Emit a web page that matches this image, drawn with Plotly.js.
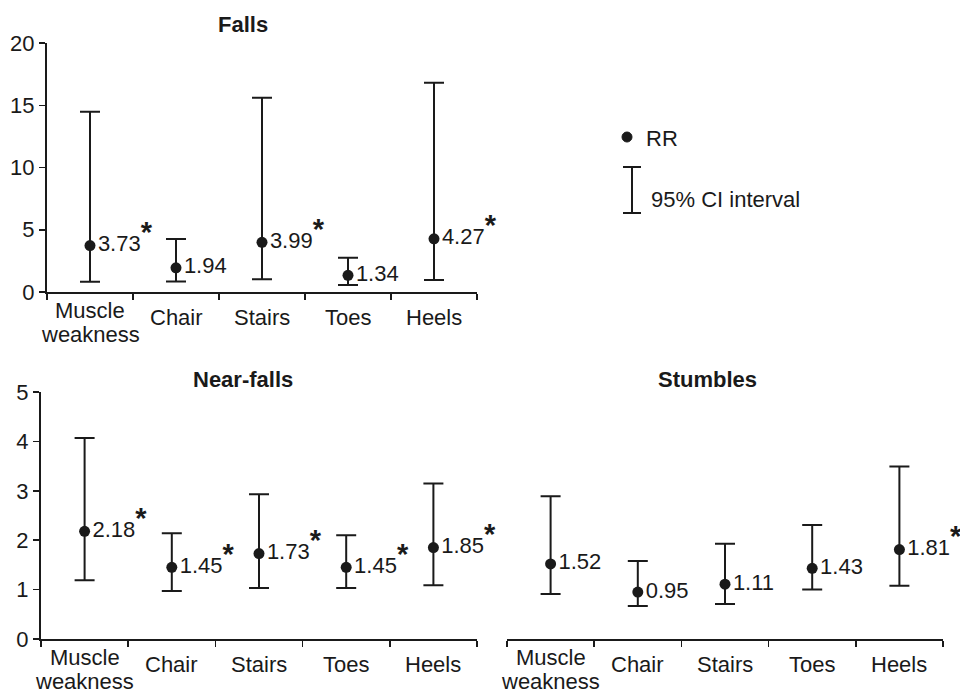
<!DOCTYPE html>
<html>
<head>
<meta charset="utf-8">
<script src="https://cdn.plot.ly/plotly-3.0.1.min.js"></script>
<style>html,body{margin:0;padding:0;background:#fff;}#chart{width:960px;height:693px;}</style>
</head>
<body>
<div id="chart"></div>
<script>
// ---- data ----
const categories = ['Muscle<br>weakness', 'Chair', 'Stairs', 'Toes', 'Heels'];

const fallsRR   = [3.73, 1.94, 3.99, 1.34, 4.27];
const fallsLow  = [0.83, 0.85, 1.02, 0.56, 0.96];
const fallsHigh = [14.48, 4.26, 15.6, 2.76, 16.8];
const fallsSig  = [true, false, true, false, true];

const nearRR   = [2.18, 1.45, 1.73, 1.45, 1.85];
const nearLow  = [1.19, 0.97, 1.03, 1.03, 1.09];
const nearHigh = [4.07, 2.14, 2.93, 2.10, 3.15];
const nearSig  = [true, true, true, true, true];

const stumRR   = [1.52, 0.95, 1.11, 1.43, 1.81];
const stumLow  = [0.91, 0.67, 0.71, 1.00, 1.08];
const stumHigh = [2.89, 1.58, 1.93, 2.31, 3.49];
const stumSig  = [false, false, false, false, true];

const panelTitles = ['Falls', 'Near-falls', 'Stumbles'];
const fallsYTicks = [0, 5, 10, 15, 20];
const nearYTicks  = [0, 1, 2, 3, 4, 5];
const legendLabels = ['RR', '95% CI interval'];

// ---- helpers ----
const W = 960, H = 693;
const px = x => x / W;
const py = y => 1 - y / H;
const INK = '#1a1a1a';
const FONT = 'Liberation Sans, Arial, sans-serif';
const FS = 22;
const STAR = '<sup><span style="font-size:29px;font-weight:bold">*</span></sup>';

function trace(rr, lo, hi, sig, xa, ya) {
  return {
    type: 'scatter', mode: 'markers+text',
    x: categories, y: rr, xaxis: xa, yaxis: ya,
    text: rr.map((v, i) => v.toFixed(2) + (sig[i] ? STAR : '')),
    textposition: 'middle right',
    textfont: {family: FONT, size: FS, color: INK},
    marker: {size: 11, color: INK, symbol: 'circle'},
    cliponaxis: false,
    error_y: {
      type: 'data', symmetric: false,
      array: hi.map((h, i) => h - rr[i]),
      arrayminus: lo.map((l, i) => rr[i] - l),
      color: INK, thickness: 2, width: 10
    },
    showlegend: false, hoverinfo: 'skip'
  };
}

// category labels drawn as annotations so the line spacing is tight
function catLabels(xa, ya) {
  const out = [];
  categories.forEach(c => {
    const lines = c.split('<br>');
    const shifts = lines.length > 1 ? [-18, -42] : [-25];
    lines.forEach((ln, j) => out.push({
      x: c, y: 0, xref: xa, yref: ya, text: ln, showarrow: false,
      xanchor: 'center', yanchor: 'middle', yshift: shifts[j],
      font: {family: FONT, size: FS, color: INK}
    }));
  });
  return out;
}

const xBase = {
  type: 'category', range: [-0.5, 4.5], tickson: 'boundaries',
  ticks: 'outside', ticklen: 6, tickwidth: 1.5, tickcolor: INK, tickangle: 0,
  showline: true, linewidth: 2, linecolor: INK, showgrid: false, zeroline: false,
  showticklabels: false, fixedrange: true
};
const yBase = {
  ticks: 'outside', ticklen: 6, tickwidth: 1.5, tickcolor: INK,
  showline: true, linewidth: 2, linecolor: INK, showgrid: false, zeroline: false,
  tickfont: {family: FONT, size: FS, color: INK}, fixedrange: true
};

const data = [
  trace(fallsRR, fallsLow, fallsHigh, fallsSig, 'x', 'y'),
  trace(nearRR, nearLow, nearHigh, nearSig, 'x2', 'y2'),
  trace(stumRR, stumLow, stumHigh, stumSig, 'x3', 'y3')
];

const titleFont = {family: FONT, size: 22, color: INK};
const annotations = [
  {text: '<b>' + panelTitles[0] + '</b>', x: px(243), y: py(24), xref: 'paper', yref: 'paper',
   showarrow: false, xanchor: 'center', yanchor: 'middle', font: titleFont},
  {text: '<b>' + panelTitles[1] + '</b>', x: px(243), y: py(379), xref: 'paper', yref: 'paper',
   showarrow: false, xanchor: 'center', yanchor: 'middle', font: titleFont},
  {text: '<b>' + panelTitles[2] + '</b>', x: px(707), y: py(379), xref: 'paper', yref: 'paper',
   showarrow: false, xanchor: 'center', yanchor: 'middle', font: titleFont},
  {text: legendLabels[0], x: px(644), y: py(138), xref: 'paper', yref: 'paper',
   showarrow: false, xanchor: 'left', yanchor: 'middle', font: {family: FONT, size: FS, color: INK}},
  {text: legendLabels[1], x: px(649), y: py(199), xref: 'paper', yref: 'paper',
   showarrow: false, xanchor: 'left', yanchor: 'middle', font: {family: FONT, size: FS, color: INK}}
].concat(catLabels('x', 'y'))
 .concat(catLabels('x2', 'y2'))
 .concat(catLabels('x3', 'y3'));

const shapes = [
  {type: 'circle', xref: 'paper', yref: 'paper', x0: px(622), x1: px(632), y0: py(142), y1: py(132),
   fillcolor: INK, line: {color: INK, width: 1}},
  {type: 'line', xref: 'paper', yref: 'paper', x0: px(632), x1: px(632), y0: py(167), y1: py(213),
   line: {color: INK, width: 2}},
  {type: 'line', xref: 'paper', yref: 'paper', x0: px(623), x1: px(641), y0: py(167), y1: py(167),
   line: {color: INK, width: 2}},
  {type: 'line', xref: 'paper', yref: 'paper', x0: px(623), x1: px(641), y0: py(213), y1: py(213),
   line: {color: INK, width: 2}}
];

const layout = {
  width: W, height: H,
  margin: {l: 0, r: 0, t: 0, b: 0},
  paper_bgcolor: '#fff', plot_bgcolor: 'rgba(0,0,0,0)',
  font: {family: FONT, color: INK},
  showlegend: false,
  xaxis:  Object.assign({}, xBase, {domain: [px(47), px(477)], anchor: 'y'}),
  yaxis:  Object.assign({}, yBase, {domain: [py(292), py(43)], anchor: 'x', range: [0, 20], tickvals: fallsYTicks}),
  xaxis2: Object.assign({}, xBase, {domain: [px(41), px(477)], anchor: 'y2'}),
  yaxis2: Object.assign({}, yBase, {domain: [py(639), py(392)], anchor: 'x2', range: [0, 5], tickvals: nearYTicks}),
  xaxis3: Object.assign({}, xBase, {domain: [px(507), px(943)], anchor: 'y3'}),
  yaxis3: Object.assign({}, yBase, {domain: [py(639), py(392)], anchor: 'x3', range: [0, 5],
           showline: false, ticks: '', showticklabels: false}),
  annotations: annotations,
  shapes: shapes
};

Plotly.newPlot('chart', data, layout, {displayModeBar: false, staticPlot: true});
</script>
</body>
</html>
